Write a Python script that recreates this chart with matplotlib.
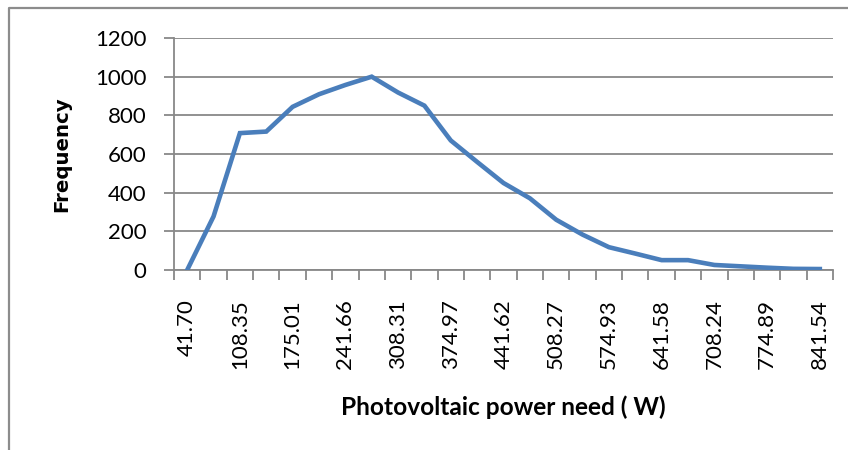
import numpy as np
import matplotlib.pyplot as plt
from matplotlib.lines import Line2D

# power need bins (only every second one is labelled on the axis)
bin_labels = ['41.70', '108.35', '175.01', '241.66', '308.31', '374.97', '441.62',
              '508.27', '574.93', '641.58', '708.24', '774.89', '841.54']
frequency = [0, 277, 708, 716, 844, 909, 957, 1000, 918, 850, 670, 559, 450,
             371, 260, 183, 118, 85, 51, 51, 26, 19, 12, 6, 5]

grey = '#888888'
blue = '#4a7ebb'

fig = plt.figure(figsize=(8.48, 4.5), dpi=100)
ax = fig.add_axes([174/848, 1-270/450, (833-174)/848, (270-38)/450])

n = len(frequency)
x = np.arange(n)
ax.plot(x, frequency, color=blue, linewidth=3.3, solid_joinstyle='miter', zorder=3)

ax.set_xlim(-0.5, n-0.5)
ax.set_ylim(0, 1200)
ax.set_yticks(np.arange(0, 1201, 200))
ax.yaxis.grid(True, color=grey, linewidth=1.3)
ax.set_axisbelow(True)

# category boundaries get the tick marks, labels sit on every second category
ax.set_xticks(np.arange(-0.5, n, 1.0))
ax.set_xticklabels([])
ax.set_xticks(np.arange(0, n, 2), minor=True)
ax.set_xticklabels(bin_labels, minor=True, rotation=90, fontsize=16, family='Lato')
ax.tick_params(axis='x', which='major', length=7, width=1.3, color=grey, direction='out')
ax.tick_params(axis='x', which='minor', length=0, pad=21)
ax.tick_params(axis='y', length=7, width=1.3, color=grey, pad=13, labelsize=16)
for lab in ax.get_yticklabels():
    lab.set_family('Lato')

for s in ['top', 'right']:
    ax.spines[s].set_visible(False)
ax.spines['left'].set_color(grey)
ax.spines['left'].set_linewidth(1.3)
ax.spines['bottom'].set_color(grey)
ax.spines['bottom'].set_linewidth(1.3)

# axis titles
fig.text(62/848, 1-154/450, 'Frequency', rotation=90, fontsize=14.2, fontweight='bold',
         family='DejaVu Sans', ha='center', va='center')
fig.text(503/848, 1-407/450, 'Photovoltaic power need ( W)', fontsize=17.6, fontweight='bold',
         family='Lato', ha='center', va='center')

# outer chart frame
fig.add_artist(Line2D([9/848, 9/848, 1.0], [0, 1-8/450, 1-8/450], color='#8c8c8c',
                      linewidth=1.6, transform=fig.transFigure))

fig.savefig('out.png', dpi=100)
